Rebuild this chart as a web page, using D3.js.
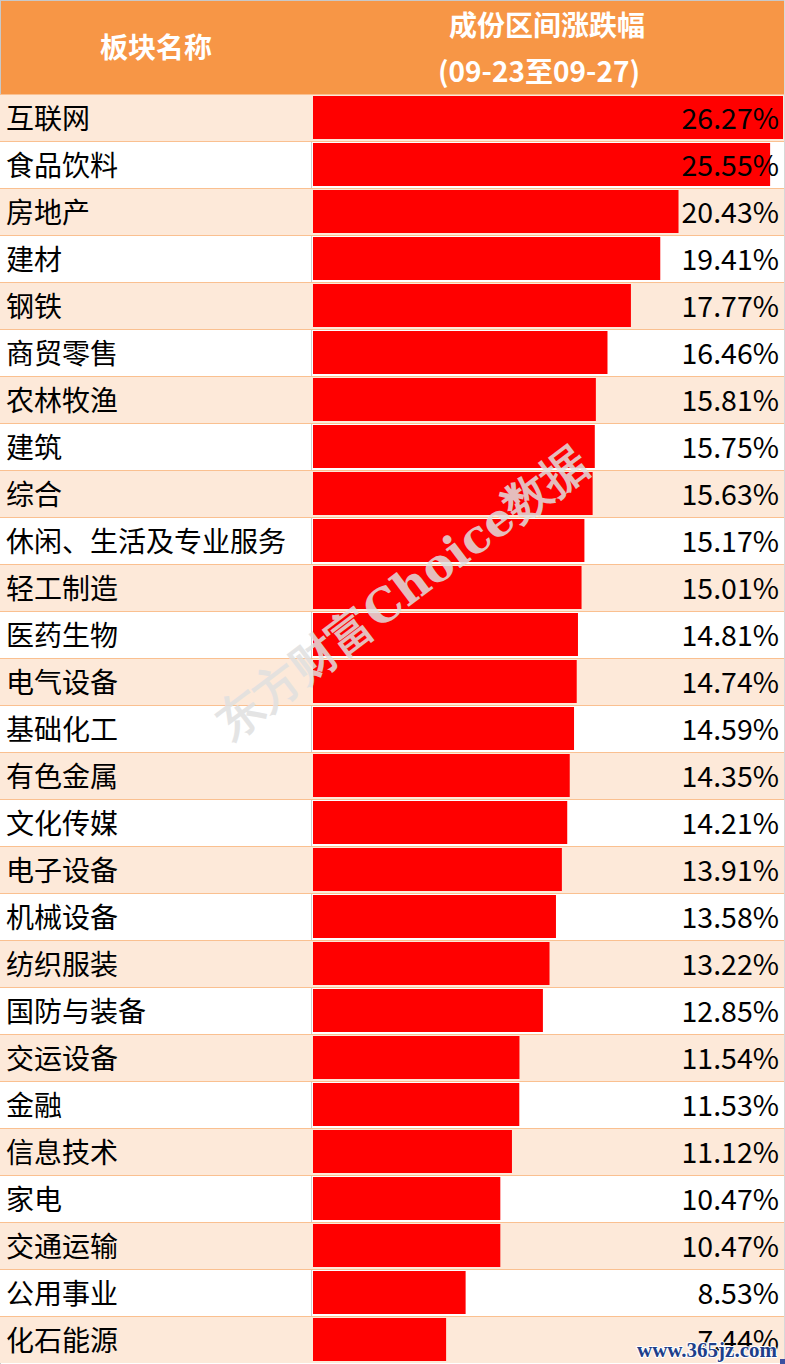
<!DOCTYPE html>
<html><head><meta charset="utf-8">
<script src="https://cdn.jsdelivr.net/npm/d3@7/dist/d3.min.js"></script>
<style>
html,body{margin:0;padding:0;background:#fff;}
svg{display:block;}
</style></head>
<body>
<svg id="chart" width="785" height="1364"></svg>
<script>
const categories = ["互联网","食品饮料","房地产","建材","钢铁","商贸零售","农林牧渔","建筑","综合","休闲、生活及专业服务","轻工制造","医药生物","电气设备","基础化工","有色金属","文化传媒","电子设备","机械设备","纺织服装","国防与装备","交运设备","金融","信息技术","家电","交通运输","公用事业","化石能源"];
const values = [26.27,25.55,20.43,19.41,17.77,16.46,15.81,15.75,15.63,15.17,15.01,14.81,14.74,14.59,14.35,14.21,13.91,13.58,13.22,12.85,11.54,11.53,11.12,10.47,10.47,8.53,7.44];
const headerLabels = ["板块名称","成份区间涨跌幅","(09-23至09-27)"];
const watermarkText = "东方财富Choice数据";
const siteText = "www.365jz.com";

const W = 785, H = 1364, headerH = 94, rowH = 47, colX = 312;
const font = "'Noto Sans CJK SC','Noto Sans',sans-serif";
const svg = d3.select("#chart");

const y = d3.scaleBand().domain(categories).range([headerH, headerH + rowH*categories.length]).paddingInner(0).paddingOuter(0);
const x = d3.scaleLinear().domain([0, 26.27]).range([colX+1, 783]);

// header
svg.append("rect").attr("x",0).attr("y",0).attr("width",W).attr("height",headerH).attr("fill","#F79646");
svg.append("line").attr("x1",0).attr("x2",W).attr("y1",0.5).attr("y2",0.5).attr("stroke","#c8c8c8");
svg.append("line").attr("x1",0.5).attr("x2",0.5).attr("y1",0).attr("y2",H).attr("stroke","#c8c8c8");
svg.append("text").attr("x",156).attr("y",46).attr("text-anchor","middle").attr("dominant-baseline","central")
  .attr("font-family",font).attr("font-weight","bold").attr("font-size",28).attr("fill","#fff").text(headerLabels[0]);
svg.append("text").attr("x",547).attr("y",24).attr("text-anchor","middle").attr("dominant-baseline","central")
  .attr("font-family",font).attr("font-weight","bold").attr("font-size",28).attr("fill","#fff").text(headerLabels[1]);
svg.append("text").attr("x",539).attr("y",70).attr("text-anchor","middle").attr("dominant-baseline","central")
  .attr("font-family",font).attr("font-weight","bold").attr("font-size",28).attr("fill","#fff").text(headerLabels[2]);

// rows
const rows = svg.append("g").selectAll("g").data(categories).join("g");
rows.append("rect").attr("x",0).attr("y",d=>y(d)).attr("width",W).attr("height",y.bandwidth())
  .attr("fill",(d,i)=> i%2===0 ? "#FDE9D9" : "#FFFFFF");
rows.filter((d,i)=>i%2===1).append("line").attr("x1",colX-0.5).attr("x2",colX-0.5).attr("y1",d=>y(d)).attr("y2",d=>y(d)+rowH)
  .attr("stroke","#d0d0d0");
rows.append("line").attr("x1",0).attr("x2",W).attr("y1",d=>y(d)+0.5).attr("y2",d=>y(d)+0.5).attr("stroke","#FAC090");

// bars
svg.append("g").selectAll("rect").data(values).join("rect")
  .attr("x",x(0)).attr("y",(d,i)=>y(categories[i])+2).attr("width",d=>x(d)-x(0)).attr("height",rowH-4)
  .attr("fill","#FF0000");

// labels
svg.append("g").selectAll("text").data(categories).join("text")
  .attr("x",6).attr("y",d=>y(d)+rowH/2-1).attr("dominant-baseline","central")
  .attr("font-family",font).attr("font-size",28).attr("fill","#000").text(d=>d);
svg.append("g").selectAll("text").data(values).join("text")
  .attr("x",779).attr("y",(d,i)=>y(categories[i])+rowH/2-1).attr("dominant-baseline","central").attr("text-anchor","end")
  .attr("font-family",font).attr("font-size",28.5).attr("fill","#000").text(d=>d.toFixed(2)+"%");

// right border
svg.append("line").attr("x1",784.5).attr("x2",784.5).attr("y1",0).attr("y2",H).attr("stroke","#d8d8d8");

// watermark
svg.append("text").attr("transform","translate(402,592) rotate(-37)").attr("text-anchor","middle").attr("dominant-baseline","central")
  .attr("font-family","'DejaVu Serif','Liberation Serif',serif").attr("font-weight","bold")
  .attr("font-size",46).attr("fill","#e0e0e0").attr("fill-opacity",0.85).text(watermarkText);

svg.append("text").attr("x",777).attr("y",1350).attr("text-anchor","end").attr("dominant-baseline","central")
  .attr("font-family","'Liberation Serif',serif").attr("font-weight","bold").attr("font-size",21)
  .attr("fill","#1f3f8a").attr("stroke","#fff").attr("stroke-width",2).attr("paint-order","stroke").text(siteText);
svg.append("rect").attr("x",780).attr("y",1359).attr("width",5).attr("height",5).attr("fill","#3b4fa0");
</script>
</body></html>
